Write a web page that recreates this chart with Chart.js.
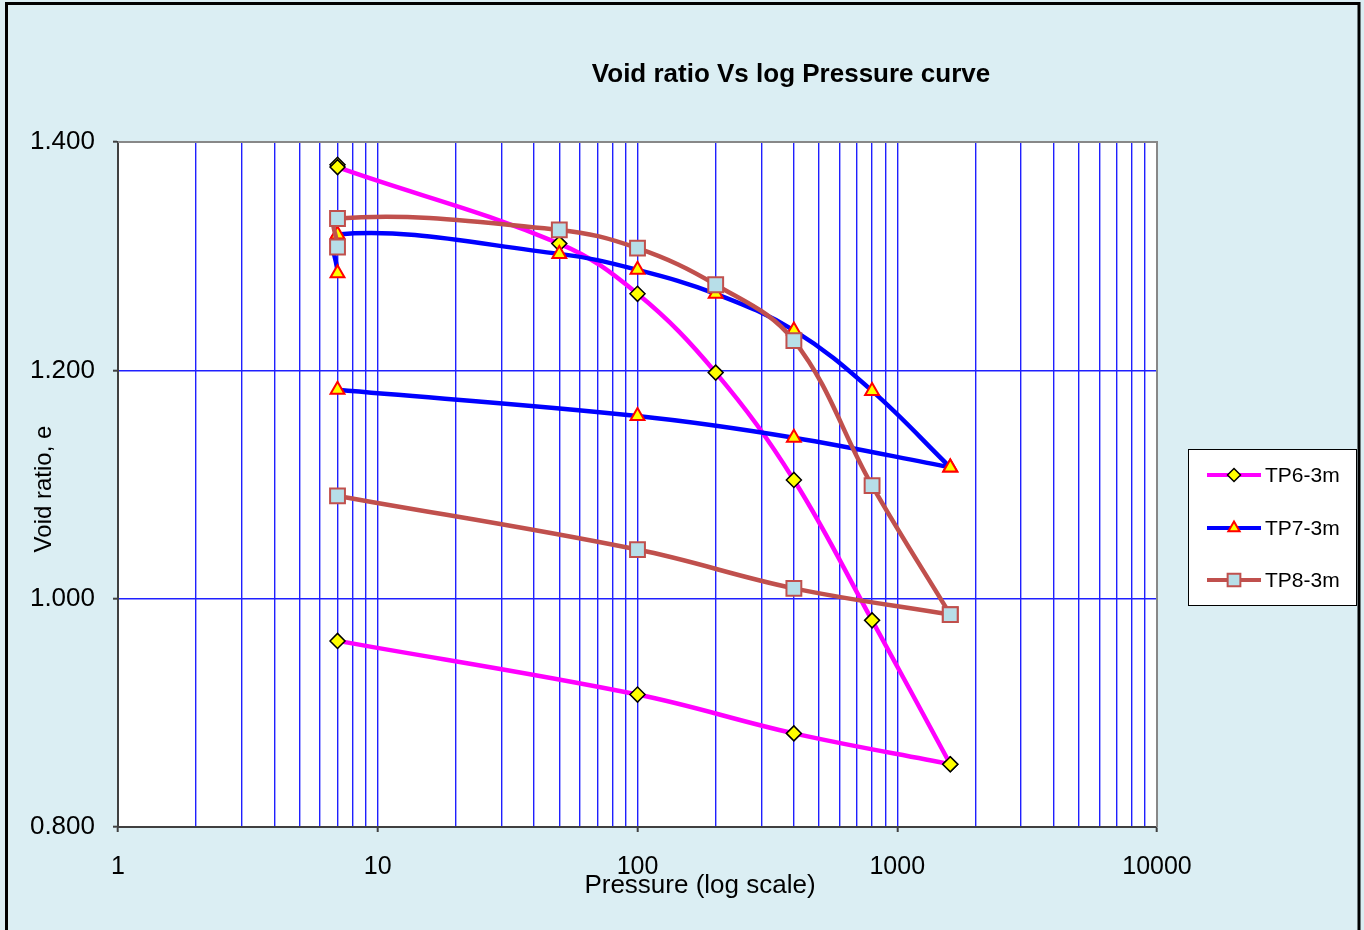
<!DOCTYPE html>
<html>
<head>
<meta charset="utf-8">
<title>Void ratio Vs log Pressure curve</title>
<script src="https://cdn.jsdelivr.net/npm/chart.js@4.4.0/dist/chart.umd.min.js"></script>
<style>
  html, body { margin: 0; padding: 0; background: #fff; }
  canvas { display: block; }
</style>
</head>
<body>
<canvas id="voidChart" width="1364" height="930"></canvas>
<script>
// pressure steps (kPa) - loading then unloading
const pressureLoad = [7, 7, 50, 100, 200, 400, 800, 1600];
const pressureUnload = [1600, 400, 100, 7];

// void ratio readings
const tp6Load = [1.380, 1.378, 1.311, 1.267, 1.198, 1.104, 0.981, 0.855];
const tp6Unload = [0.855, 0.882, 0.916, 0.963];
const tp7Load = [1.285, 1.319, 1.302, 1.288, 1.267, 1.235, 1.182, 1.115];
const tp7Unload = [1.115, 1.141, 1.160, 1.183];
const tp8Load = [1.308, 1.333, 1.323, 1.307, 1.275, 1.226, 1.099, 0.986];
const tp8Unload = [0.986, 1.009, 1.043, 1.090];

const seriesNames = ["TP6-3m", "TP7-3m", "TP8-3m"];
const xTickLabels = [1, 10, 100, 1000, 10000];
const yTicks = [0.8, 1.0, 1.2, 1.4];

const styles = [
  { line: "#FF00FF", marker: "rectRot", radius: 7.5, fill: "#FFFF00", edge: "#000000", edgeW: 1.5, order: 3 },
  { line: "#0000FF", marker: "triangle", radius: 8, fill: "#FFFF00", edge: "#FF0000", edgeW: 2, order: 2 },
  { line: "#C0504D", marker: "rect", radius: 10.5, fill: "#B7DEE8", edge: "#C0504D", edgeW: 2, order: 1 }
];

function pts(xs, ys) {
  return xs.map((x, i) => ({ x: x, y: ys[i] }));
}

function makeSet(idx, xs, ys) {
  const s = styles[idx];
  return {
    label: seriesNames[idx],
    data: pts(xs, ys),
    showLine: true,
    borderColor: s.line,
    borderWidth: 4.5,
    tension: 0.38,
    pointStyle: s.marker,
    pointRadius: s.radius,
    pointBackgroundColor: s.fill,
    pointBorderColor: s.edge,
    pointBorderWidth: s.edgeW,
    order: s.order
  };
}

// all 1..9 x 10^n positions for the log grid
const logTicks = [];
for (let p = 0; p < 4; p++) {
  for (let m = 1; m < 10; m++) logTicks.push(m * Math.pow(10, p));
}
logTicks.push(10000);

function isPow10(v) {
  return xTickLabels.indexOf(v) !== -1;
}

function drawMarker(ctx, s, x, y) {
  ctx.save();
  ctx.fillStyle = s.fill;
  ctx.strokeStyle = s.edge;
  ctx.lineWidth = s.edgeW;
  ctx.beginPath();
  const r = s.radius;
  if (s.marker === "rectRot") {
    ctx.moveTo(x, y - r); ctx.lineTo(x + r, y); ctx.lineTo(x, y + r); ctx.lineTo(x - r, y);
  } else if (s.marker === "triangle") {
    for (let k = 0; k < 3; k++) {
      const a = k * 2 * Math.PI / 3;
      const px = x + Math.sin(a) * r, py = y - Math.cos(a) * r;
      if (k === 0) ctx.moveTo(px, py); else ctx.lineTo(px, py);
    }
  } else {
    const h = r * Math.SQRT1_2;
    ctx.rect(x - h, y - h, 2 * h, 2 * h);
  }
  ctx.closePath();
  ctx.fill();
  ctx.stroke();
  ctx.restore();
}

const decorations = {
  id: "decorations",
  beforeDraw(chart) {
    const ctx = chart.ctx, a = chart.chartArea;
    ctx.save();
    ctx.fillStyle = "#DBEEF3";
    ctx.fillRect(0, 0, chart.width, chart.height);
    ctx.fillStyle = "#FFFFFF";
    ctx.fillRect(a.left, a.top, a.right - a.left, a.bottom - a.top);
    // outer frame
    ctx.strokeStyle = "#000000";
    ctx.lineWidth = 3;
    ctx.beginPath();
    ctx.moveTo(6.5, 935); ctx.lineTo(6.5, 3.5); ctx.lineTo(1359, 3.5); ctx.lineTo(1359, 935);
    ctx.stroke();
    ctx.restore();
  },
  afterDraw(chart) {
    const ctx = chart.ctx, a = chart.chartArea;
    ctx.save();
    // plot area top/right edges
    ctx.strokeStyle = "#888888";
    ctx.lineWidth = 2;
    ctx.beginPath();
    ctx.moveTo(a.left, a.top); ctx.lineTo(a.right, a.top); ctx.lineTo(a.right, a.bottom);
    ctx.stroke();

    ctx.fillStyle = "#000000";
    ctx.textAlign = "center";
    ctx.textBaseline = "middle";
    ctx.font = "bold 26px 'Liberation Sans', Arial, sans-serif";
    ctx.fillText("Void ratio Vs log Pressure curve", 791, 75);

    ctx.font = "26px 'Liberation Sans', Arial, sans-serif";
    ctx.fillText("Pressure (log scale)", 700, 886);

    ctx.save();
    ctx.translate(44, 489);
    ctx.rotate(-Math.PI / 2);
    ctx.font = "24px 'Liberation Sans', Arial, sans-serif";
    ctx.fillText("Void ratio, e", 0, 0);
    ctx.restore();

    // legend
    ctx.fillStyle = "#FFFFFF";
    ctx.fillRect(1188, 449, 169, 157);
    ctx.strokeStyle = "#000000";
    ctx.lineWidth = 1;
    ctx.strokeRect(1188.5, 449.5, 168, 156);
    const rows = [475, 528, 580];
    seriesNames.forEach((name, i) => {
      const s = styles[i], y = rows[i];
      ctx.strokeStyle = s.line;
      ctx.lineWidth = 4;
      ctx.beginPath();
      ctx.moveTo(1207, y); ctx.lineTo(1261, y);
      ctx.stroke();
      drawMarker(ctx, Object.assign({}, s, { radius: s.marker === "rect" ? 9 : 6.5 }), 1234, y);
      ctx.fillStyle = "#000000";
      ctx.textAlign = "left";
      ctx.font = "21px 'Liberation Sans', Arial, sans-serif";
      ctx.fillText(name, 1265, y + 1);
    });
    ctx.restore();
  }
};

new Chart(document.getElementById("voidChart"), {
  type: "scatter",
  data: {
    datasets: [
      makeSet(0, pressureLoad, tp6Load),
      makeSet(0, pressureUnload, tp6Unload),
      makeSet(1, pressureLoad, tp7Load),
      makeSet(1, pressureUnload, tp7Unload),
      makeSet(2, pressureLoad, tp8Load),
      makeSet(2, pressureUnload, tp8Unload)
    ]
  },
  options: {
    responsive: false,
    devicePixelRatio: 1,
    animation: false,
    events: [],
    layout: { padding: { left: 0, top: 142, right: 207, bottom: 0 } },
    plugins: {
      legend: { display: false },
      title: { display: false },
      tooltip: { enabled: false }
    },
    scales: {
      x: {
        type: "logarithmic",
        min: 1,
        max: 10000,
        afterBuildTicks: (scale) => {
          scale.ticks = logTicks.map(v => ({ value: v, major: isPow10(v) }));
        },
        afterFit: (scale) => { scale.height = 103; },
        ticks: {
          autoSkip: false,
          maxRotation: 0,
          padding: 20,
          color: "#000000",
          font: { family: "'Liberation Sans', Arial, sans-serif", size: 25 },
          callback: (v) => (isPow10(v) ? String(v) : "")
        },
        grid: {
          color: (c) => (c.tick && (c.tick.value === 1 || c.tick.value === 10000) ? "rgba(0,0,0,0)" : "#2020FF"),
          lineWidth: 1.4,
          tickLength: 5,
          tickColor: (c) => (c.tick && isPow10(c.tick.value) ? "#404040" : "rgba(0,0,0,0)"),
          tickWidth: 2
        },
        border: { display: true, color: "#404040", width: 2 }
      },
      y: {
        min: 0.8,
        max: 1.4,
        afterBuildTicks: (scale) => {
          scale.ticks = yTicks.map(v => ({ value: v }));
        },
        afterFit: (scale) => { scale.width = 118; },
        ticks: {
          padding: 18,
          color: "#000000",
          font: { family: "'Liberation Sans', Arial, sans-serif", size: 26 },
          callback: (v) => Number(v).toFixed(3)
        },
        grid: {
          color: (c) => (c.tick && (c.tick.value === 1.0 || c.tick.value === 1.2) ? "#2020FF" : "rgba(0,0,0,0)"),
          lineWidth: 1.4,
          tickLength: 5,
          tickColor: "#404040",
          tickWidth: 2
        },
        border: { display: true, color: "#404040", width: 2 }
      }
    }
  },
  plugins: [decorations]
});
</script>
</body>
</html>
